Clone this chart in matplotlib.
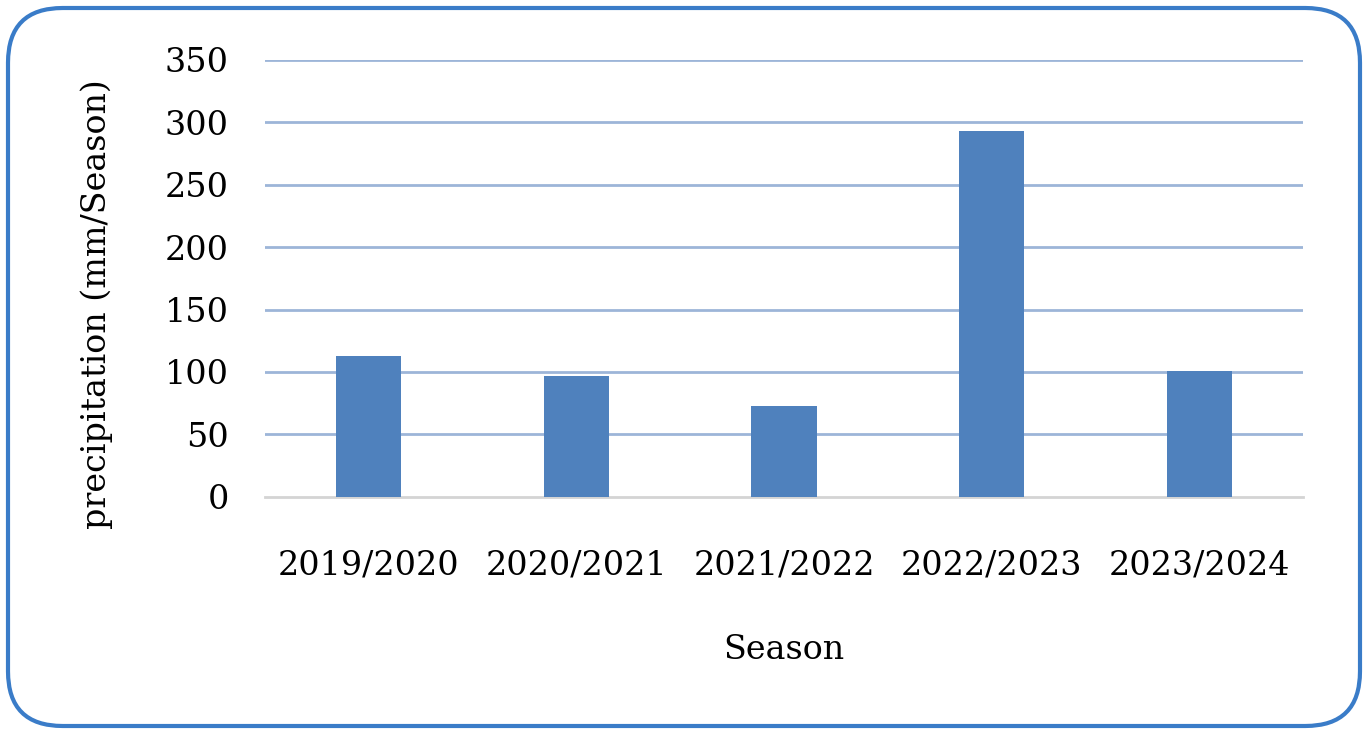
import matplotlib.pyplot as plt
from matplotlib.patches import FancyBboxPatch

seasons = ["2019/2020", "2020/2021", "2021/2022", "2022/2023", "2023/2024"]
precip = [113, 97, 73, 293, 101]
yticks = [0, 50, 100, 150, 200, 250, 300, 350]

bar_color = "#4f81bd"
grid_color = "#9db5d8"
font = "DejaVu Serif"

fig = plt.figure(figsize=(13.68, 7.34), dpi=100)
ax = fig.add_axes([0.1937, 0.3233, 0.7588, 0.5950])

x = range(len(seasons))
ax.bar(x, precip, width=0.315, color=bar_color, zorder=3)

ax.set_xlim(-0.5, len(seasons) - 0.5)
ax.set_ylim(0, 350)
ax.set_yticks(yticks)
ax.set_xticks(list(x))
ax.set_xticklabels(seasons, fontsize=24, family=font)
ax.set_yticklabels([str(t) for t in yticks], fontsize=24, family=font)
ax.tick_params(axis="y", length=0, pad=26)
ax.tick_params(axis="x", length=0, pad=38)

for t in yticks[1:]:
    ax.axhline(t, color=grid_color, lw=2, zorder=1)

for side in ["top", "right", "left"]:
    ax.spines[side].set_visible(False)
ax.spines["bottom"].set_color("#d4d4d4")
ax.spines["bottom"].set_linewidth(2)

fig.text(0.5731, 0.115, "Season", ha="center", va="center", fontsize=24, family=font)
fig.text(0.071, 0.585, "precipitation (mm/Season)", ha="center", va="center",
         rotation=90, fontsize=24, family=font)

border = FancyBboxPatch((8 / 1368, 8 / 734), 1352 / 1368, 718 / 734,
                        boxstyle="round,pad=0,rounding_size=0.04",
                        transform=fig.transFigure, fill=False,
                        edgecolor="#3a7cc8", linewidth=3,
                        mutation_aspect=1368 / 734)
fig.patches.append(border)

fig.savefig("out.png", dpi=100)
